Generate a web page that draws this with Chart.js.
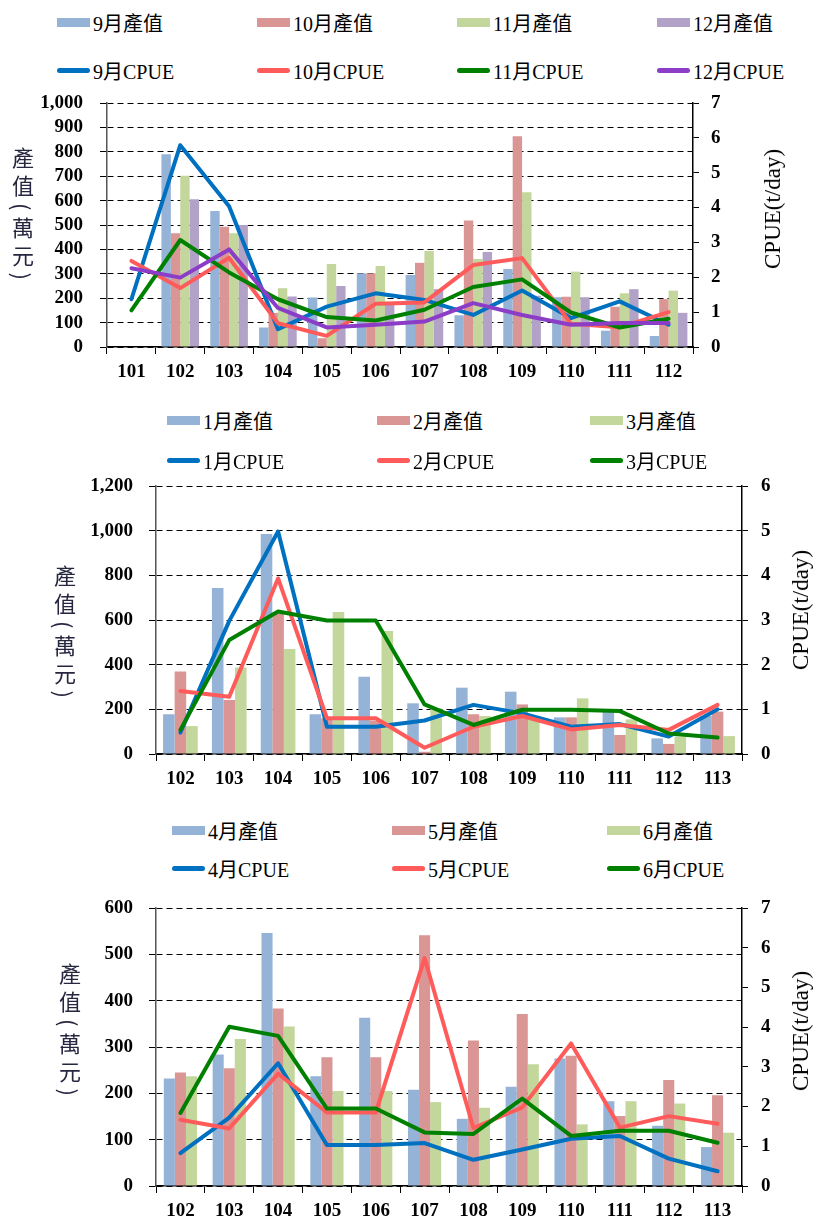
<!DOCTYPE html>
<html><head><meta charset="utf-8">
<script src="https://cdn.jsdelivr.net/npm/chart.js@4.4.1/dist/chart.umd.min.js"></script>
<style>
body{margin:0;background:#fff;width:826px;height:1231px;position:relative;overflow:hidden;font-family:"Liberation Serif","Noto Sans CJK TC",serif;}
canvas{position:absolute;left:0;}
.lg{position:absolute;display:flex;align-items:center;height:24px;font-size:20px;color:#000;white-space:nowrap;font-family:"Liberation Serif","Noto Sans CJK TC",serif;}
.sw{display:inline-block;width:33px;height:9px;margin-right:3px;}
.ln{display:inline-block;width:33px;height:5px;border-radius:3px;margin-right:3px;}
.ytl{position:absolute;writing-mode:vertical-rl;font-size:22px;letter-spacing:6px;color:#262640;font-family:"Noto Sans CJK TC",sans-serif;}
.ytr{position:absolute;font-size:23px;color:#000;transform:translate(-50%,-50%) rotate(-90deg);white-space:nowrap;font-family:"Liberation Serif",serif;}
</style></head><body>
<script>
// ---------- DATA ----------
const years1 = ['101','102','103','104','105','106','107','108','109','110','111','112'];
const val9  = [null,790,557,80,203,302,295,130,320,204,67,45];
const val10 = [null,466,493,140,36,302,345,518,864,206,165,196];
const val11 = [null,702,466,241,340,332,393,361,634,309,220,231];
const val12 = [null,606,500,207,250,175,237,389,210,204,237,140];
const cpue9  = [1.37,5.79,4.04,0.51,1.16,1.54,1.35,0.92,1.62,0.83,1.31,0.64];
const cpue10 = [2.47,1.69,2.56,0.68,0.32,1.24,1.28,2.35,2.55,0.67,0.57,1.00];
const cpue11 = [1.05,3.07,2.14,1.37,0.86,0.76,1.07,1.72,1.94,0.99,0.56,0.81];
const cpue12 = [2.26,1.99,2.80,1.12,0.56,0.64,0.73,1.26,0.92,0.64,0.69,0.69];

const years2 = ['102','103','104','105','106','107','108','109','110','111','112','113'];
const val1 = [178,743,985,178,346,227,297,279,164,190,70,170];
const val2 = [369,242,630,160,150,10,178,222,164,85,45,190];
const val3 = [125,387,470,636,551,205,170,160,249,155,78,80];
const cpue1 = [0.48,2.98,4.98,0.61,0.61,0.75,1.10,0.91,0.61,0.67,0.39,1.00];
const cpue2 = [1.41,1.28,3.93,0.80,0.80,0.14,0.61,0.85,0.55,0.65,0.54,1.10];
const cpue3 = [0.54,2.55,3.19,2.99,2.99,1.11,0.65,0.99,0.99,0.96,0.46,0.37];

const years3 = ['102','103','104','105','106','107','108','109','110','111','112','113'];
const val4 = [232,284,546,237,363,208,145,214,275,183,130,84];
const val5 = [245,254,383,278,278,541,314,371,281,151,229,196];
const val6 = [237,317,344,205,205,181,169,263,133,183,178,115];
const cpue4 = [0.83,1.72,3.09,1.03,1.03,1.08,0.66,0.92,1.19,1.26,0.69,0.37];
const cpue5 = [1.67,1.45,2.83,1.85,1.85,5.74,1.46,1.98,3.59,1.47,1.76,1.57];
const cpue6 = [1.84,4.01,3.78,1.95,1.95,1.35,1.31,2.20,1.26,1.39,1.39,1.09];

const leftTitle = '產值(萬元)';
const rightTitle = 'CPUE(t/day)';

// ---------- STYLE ----------
const C = {bBlue:'#95B3D7', bRed:'#D99694', bGreen:'#C3D69B', bPurple:'#B3A2C7',
           lBlue:'#0070C0', lRed:'#FF5B5B', lGreen:'#008000', lPurple:'#8B3DC8'};
const tickFont = {family:'Liberation Serif', size:19, weight:'bold'};

function addLegend(bars, lines, xs, ys){
  bars.forEach((b,i)=>{
    const d=document.createElement('div'); d.className='lg';
    d.style.left=xs[i]+'px'; d.style.top=(ys[0]-12)+'px';
    d.innerHTML='<span class="sw" style="background:'+b.color+'"></span>';
    d.appendChild(document.createTextNode(b.label));
    document.body.appendChild(d);
  });
  lines.forEach((l,i)=>{
    const d=document.createElement('div'); d.className='lg';
    d.style.left=xs[i]+'px'; d.style.top=(ys[1]-12)+'px';
    d.innerHTML='<span class="ln" style="background:'+l.color+'"></span>';
    d.appendChild(document.createTextNode(l.label));
    document.body.appendChild(d);
  });
}
function addTitles(lx, ltop, rx, ry){
  const a=document.createElement('div'); a.className='ytl';
  a.style.left=(lx-11)+'px'; a.style.top=ltop+'px'; a.textContent=leftTitle;
  document.body.appendChild(a);
  const b=document.createElement('div'); b.className='ytr';
  b.style.left=rx+'px'; b.style.top=ry+'px'; b.textContent=rightTitle;
  document.body.appendChild(b);
}

function makeChart(o){
  const cv=document.createElement('canvas');
  cv.width=826; cv.height=o.h; cv.style.top=o.top+'px';
  document.body.appendChild(cv);
  const datasets=[];
  o.bars.forEach(b=>datasets.push({type:'bar',label:b.label,data:b.data,backgroundColor:b.color,
     yAxisID:'y',order:20,categoryPercentage:o.catPct,barPercentage:1.0}));
  const n=o.lines.length;
  o.lines.forEach((l,i)=>datasets.push({type:'line',label:l.label,data:l.data,borderColor:l.color,
     backgroundColor:l.color,borderWidth:4,pointRadius:0,yAxisID:'y1',order:n-i,tension:0,
     borderCapStyle:'round',borderJoinStyle:'round',fill:false}));
  const vfit=w=>s=>{s.width=w; s.paddingTop=0; s.paddingBottom=0;};
  new Chart(cv,{data:{labels:o.cats,datasets},options:{
    responsive:false,animation:false,
    layout:{padding:{top:o.padTop,left:0,right:0,bottom:0}},
    plugins:{legend:{display:false},tooltip:{enabled:false}},
    scales:{
      x:{type:'category',offset:true,
         grid:{offset:true,drawOnChartArea:false,tickLength:7,color:'#000',lineWidth:1},
         border:{color:'#000',width:1.5},
         ticks:{padding:7,color:'#000',font:tickFont,maxRotation:0,autoSkip:false},
         afterFit:s=>{s.height=o.xH; s.paddingLeft=0; s.paddingRight=0;}},
      y:{position:'left',min:0,max:o.lmax,
         ticks:{stepSize:o.lstep,padding:o.lpad,color:'#000',font:tickFont,autoSkip:false,
                callback:v=>Number(v).toLocaleString('en-US')},
         grid:{color:'#000',lineWidth:1,tickLength:7},
         border:{dash:[6,4],color:'#555',width:1.5},
         afterFit:vfit(o.lw)},
      y1:{position:'right',min:0,max:o.rmax,
         ticks:{stepSize:1,padding:o.rpad,color:'#000',font:tickFont,autoSkip:false},
         grid:{drawOnChartArea:false,tickLength:6,color:'#000',lineWidth:1},
         border:{color:'#000',width:1.5},
         afterFit:vfit(o.rw)}
    }}});
}

// Chart 1
const bars1=[{label:'9月產值',data:val9,color:C.bBlue},{label:'10月產值',data:val10,color:C.bRed},
             {label:'11月產值',data:val11,color:C.bGreen},{label:'12月產值',data:val12,color:C.bPurple}];
const lines1=[{label:'9月CPUE',data:cpue9,color:C.lBlue},{label:'10月CPUE',data:cpue10,color:C.lRed},
              {label:'11月CPUE',data:cpue11,color:C.lGreen},{label:'12月CPUE',data:cpue12,color:C.lPurple}];
makeChart({top:85,h:310,padTop:18,cats:years1,bars:bars1,lines:lines1,catPct:0.77,
  lmax:1000,lstep:100,rmax:7,lw:107,rw:133,xH:48,lpad:17,rpad:12});
addLegend(bars1,lines1,[57,257,457,657],[22,70]);
addTitles(18,147,773,209);

// Chart 2
const bars2=[{label:'1月產值',data:val1,color:C.bBlue},{label:'2月產值',data:val2,color:C.bRed},
             {label:'3月產值',data:val3,color:C.bGreen}];
const lines2=[{label:'1月CPUE',data:cpue1,color:C.lBlue},{label:'2月CPUE',data:cpue2,color:C.lRed},
              {label:'3月CPUE',data:cpue3,color:C.lGreen}];
makeChart({top:470,h:332,padTop:16,cats:years2,bars:bars2,lines:lines2,catPct:0.71,
  lmax:1200,lstep:200,rmax:6,lw:156,rw:84,xH:48,lpad:16,rpad:13});
addLegend(bars2,lines2,[167,377,590],[420,460]);
addTitles(60,565,801,610);

// Chart 3
const bars3=[{label:'4月產值',data:val4,color:C.bBlue},{label:'5月產值',data:val5,color:C.bRed},
             {label:'6月產值',data:val6,color:C.bGreen}];
const lines3=[{label:'4月CPUE',data:cpue4,color:C.lBlue},{label:'5月CPUE',data:cpue5,color:C.lRed},
              {label:'6月CPUE',data:cpue6,color:C.lGreen}];
makeChart({top:892,h:339,padTop:16,cats:years3,bars:bars3,lines:lines3,catPct:0.68,
  lmax:600,lstep:100,rmax:7,lw:156,rw:84,xH:45,lpad:16,rpad:13});
addLegend(bars3,lines3,[172,392,607],[830,868]);
addTitles(65,963,801,1031);
</script>
</body></html>
